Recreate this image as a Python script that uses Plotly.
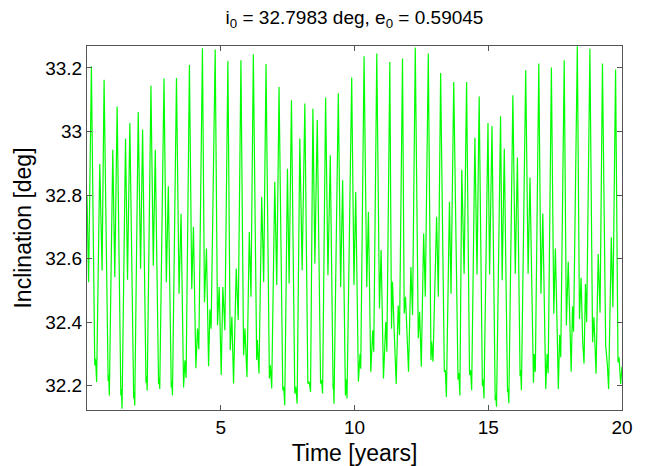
import plotly.graph_objects as go

# Time axis [years] and inclination [deg]
time_years = [
    0.000, 0.060, 0.164, 0.290, 0.320, 0.360, 0.477, 0.564, 0.639, 0.790,
    0.810, 0.835, 0.964, 1.039, 1.127, 1.265, 1.285, 1.310, 1.440, 1.515,
    1.602, 1.745, 1.765, 1.785, 1.915, 2.003, 2.078, 2.205, 2.228, 2.250,
    2.390, 2.478, 2.553, 2.675, 2.695, 2.720, 2.878, 2.966, 3.040, 3.150,
    3.170, 3.195, 3.345, 3.441, 3.516, 3.610, 3.660, 3.705, 3.829, 3.916,
    3.979, 4.070, 4.130, 4.180, 4.316, 4.391, 4.466, 4.545, 4.595, 4.640,
    4.792, 4.879, 4.942, 5.017, 5.079, 5.154, 5.267, 5.354, 5.417, 5.479,
    5.579, 5.654, 5.754, 5.854, 5.904, 5.980, 6.067, 6.130, 6.218, 6.343,
    6.368, 6.430, 6.530, 6.605, 6.693, 6.818, 6.855, 6.905, 7.019, 7.094,
    7.180, 7.318, 7.355, 7.393, 7.493, 7.556, 7.643, 7.768, 7.806, 7.856,
    7.956, 8.043, 8.144, 8.256, 8.306, 8.357, 8.444, 8.519, 8.607, 8.732,
    8.770, 8.807, 8.920, 9.007, 9.095, 9.200, 9.215, 9.233, 9.395, 9.482,
    9.557, 9.660, 9.690, 9.720, 9.895, 9.980, 10.046, 10.145, 10.208, 10.233,
    10.358, 10.458, 10.520, 10.608, 10.683, 10.720, 10.833, 10.933, 10.995, 11.083,
    11.170, 11.210, 11.320, 11.383, 11.420, 11.483, 11.558, 11.633, 11.683, 11.795,
    11.858, 11.908, 11.958, 12.020, 12.108, 12.170, 12.272, 12.384, 12.434, 12.497,
    12.585, 12.647, 12.759, 12.859, 12.884, 12.934, 13.070, 13.134, 13.220, 13.358,
    13.396, 13.435, 13.550, 13.608, 13.710, 13.870, 13.900, 13.940, 14.010, 14.098,
    14.190, 14.300, 14.340, 14.380, 14.500, 14.580, 14.660, 14.780, 14.810, 14.840,
    14.990, 15.050, 15.140, 15.260, 15.280, 15.310, 15.460, 15.520, 15.600, 15.720,
    15.740, 15.770, 15.920, 16.010, 16.090, 16.190, 16.210, 16.240, 16.400, 16.490,
    16.560, 16.690, 16.720, 16.760, 16.890, 16.970, 17.040, 17.150, 17.200, 17.240,
    17.360, 17.450, 17.510, 17.570, 17.620, 17.670, 17.710, 17.840, 17.920, 17.990,
    18.050, 18.100, 18.150, 18.190, 18.330, 18.410, 18.470, 18.530, 18.580, 18.635,
    18.680, 18.800, 18.900, 18.950, 19.030, 19.110, 19.180, 19.270, 19.390, 19.450,
    19.500, 19.600, 19.660, 19.760, 19.850, 19.890, 19.950, 20.000,
]

inclination_deg = [
    32.798, 32.526, 33.205, 32.265, 32.285, 32.212, 32.898, 32.563, 33.163, 32.215,
    32.235, 32.170, 32.943, 32.542, 33.079, 32.170, 32.190, 32.128, 32.977, 32.534,
    33.027, 32.160, 32.180, 32.138, 33.061, 32.568, 33.006, 32.210, 32.230, 32.185,
    33.144, 32.578, 32.943, 32.205, 32.225, 32.190, 33.167, 32.526, 32.828, 32.195,
    32.215, 32.170, 33.168, 32.490, 32.741, 32.195, 32.280, 32.225, 33.209, 32.505,
    32.700, 32.255, 32.380, 32.315, 33.262, 32.463, 32.632, 32.262, 32.440, 32.380,
    33.258, 32.391, 32.511, 32.234, 32.511, 32.375, 33.222, 32.312, 32.417, 32.207,
    32.569, 32.407, 33.224, 32.296, 32.380, 32.228, 32.684, 32.480, 33.243, 32.281,
    32.344, 32.239, 32.794, 32.527, 33.212, 32.223, 32.265, 32.192, 32.842, 32.517,
    33.140, 32.186, 32.197, 32.139, 32.883, 32.522, 33.098, 32.176, 32.197, 32.144,
    32.978, 32.564, 33.088, 32.207, 32.213, 32.181, 33.072, 32.585, 33.036, 32.207,
    32.218, 32.176, 33.107, 32.548, 32.925, 32.190, 32.205, 32.144, 33.120, 32.511,
    32.847, 32.170, 32.220, 32.160, 33.170, 32.517, 32.810, 32.213, 32.300, 32.254,
    33.237, 32.511, 32.747, 32.244, 32.375, 32.307, 33.245, 32.443, 32.627, 32.223,
    32.401, 32.307, 33.219, 32.380, 32.527, 32.375, 32.206, 32.453, 32.360, 33.230,
    32.428, 32.480, 32.343, 32.244, 32.574, 32.423, 33.264, 32.350, 32.433, 32.260,
    32.679, 32.480, 33.245, 32.281, 32.339, 32.276, 32.732, 32.480, 33.184, 32.244,
    32.250, 32.165, 32.779, 32.490, 33.156, 32.220, 32.240, 32.170, 32.880, 32.553,
    33.156, 32.234, 32.250, 32.186, 32.980, 32.550, 33.110, 32.200, 32.220, 32.160,
    33.027, 32.550, 33.017, 32.155, 32.170, 32.134, 33.048, 32.532, 32.946, 32.180,
    32.190, 32.145, 33.114, 32.553, 32.918, 32.230, 32.250, 32.186, 33.193, 32.553,
    32.855, 32.210, 32.300, 32.244, 33.214, 32.490, 32.742, 32.190, 32.300, 32.240,
    33.201, 32.427, 32.632, 32.400, 32.190, 32.360, 32.290, 33.224, 32.390, 32.590,
    32.370, 32.244, 32.450, 32.370, 33.268, 32.410, 32.540, 32.340, 32.270, 32.520,
    32.400, 33.260, 32.337, 32.416, 32.238, 32.615, 32.430, 33.214, 32.327, 32.270,
    32.190, 32.667, 32.447, 33.195, 32.274, 32.290, 32.206, 32.260,
]

x_tick_vals = [5, 10, 15, 20]
x_tick_text = ["5", "10", "15", "20"]
y_tick_vals = [32.2, 32.4, 32.6, 32.8, 33.0, 33.2]
y_tick_text = ["32.2", "32.4", "32.6", "32.8", "33", "33.2"]

fig = go.Figure(
    go.Scatter(
        x=time_years,
        y=inclination_deg,
        mode="lines",
        line=dict(color="#00ff00", width=1.2),
        hoverinfo="skip",
    )
)

axis_col = "#555555"
font_family = "Liberation Sans, Arial, Helvetica, sans-serif"

fig.update_layout(
    width=647,
    height=466,
    margin=dict(l=87, r=25, t=46, b=56),
    paper_bgcolor="white",
    plot_bgcolor="white",
    showlegend=False,
    font=dict(family=font_family, size=19, color="#000000"),
    title=dict(
        text="i<sub>0</sub> = 32.7983 deg, e<sub>0</sub> = 0.59045",
        x=0.5,
        xref="paper",
        xanchor="center",
        y=0.978,
        yref="container",
        yanchor="top",
        font=dict(family=font_family, size=19, color="#000000"),
    ),
)

fig.update_xaxes(
    range=[0, 20],
    tickvals=x_tick_vals,
    ticktext=x_tick_text,
    ticks="inside",
    ticklen=5,
    tickcolor=axis_col,
    showline=True,
    linecolor=axis_col,
    linewidth=1,
    mirror="ticks",
    showgrid=False,
    zeroline=False,
    automargin=False,
    title=dict(text="Time [years]", standoff=8),
)

fig.update_yaxes(
    range=[32.124, 33.269],
    tickvals=y_tick_vals,
    ticktext=y_tick_text,
    ticks="inside",
    ticklen=5,
    tickcolor=axis_col,
    showline=True,
    linecolor=axis_col,
    linewidth=1,
    mirror="ticks",
    showgrid=False,
    zeroline=False,
    automargin=False,
    title=dict(text="Inclination [deg]", standoff=7),
)

fig.write_html("out.html")
